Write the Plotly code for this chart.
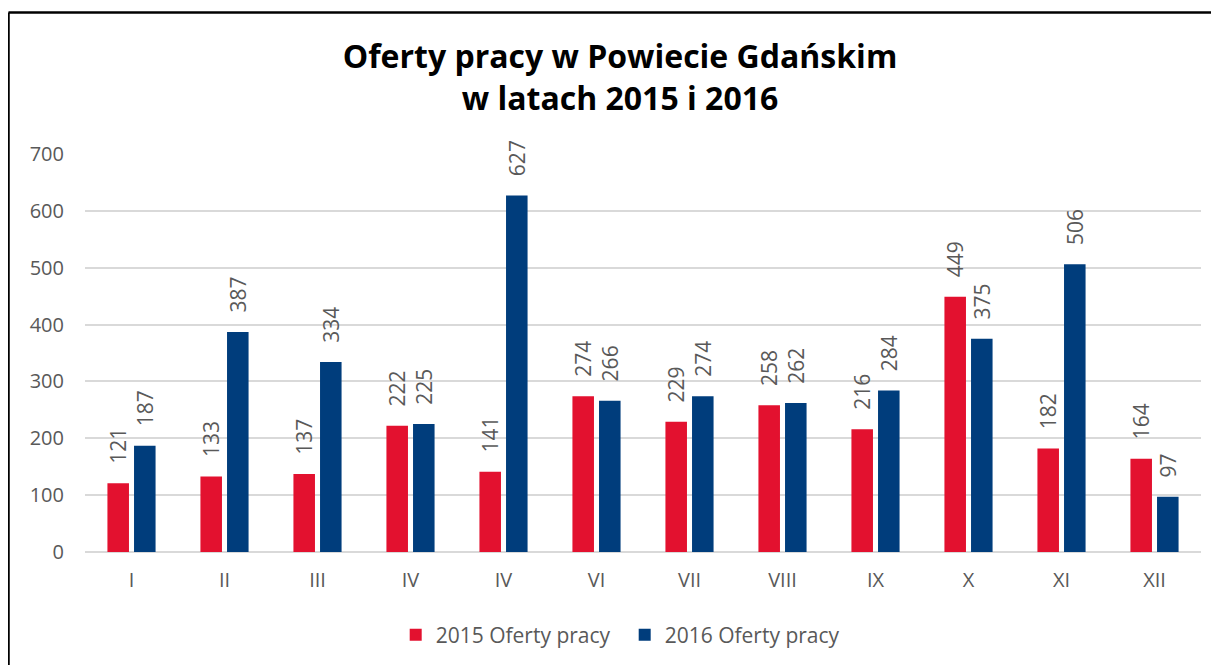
import plotly.graph_objects as go

months = ["I", "II", "III", "IV", "IV", "VI", "VII", "VIII", "IX", "X", "XI", "XII"]
oferty_2015 = [121, 133, 137, 222, 141, 274, 229, 258, 216, 449, 182, 164]
oferty_2016 = [187, 387, 334, 225, 627, 266, 274, 262, 284, 375, 506, 97]
series_names = ["2015 Oferty pracy", "2016 Oferty pracy"]
y_ticks = [0, 100, 200, 300, 400, 500, 600, 700]

positions = list(range(len(months)))
FONT = "Open Sans"
GRAY = "#595959"
RED = "#E3112F"
BLUE = "#003D7C"
PAD = "\u00a0\u00a0\u00a0"

fig = go.Figure()
for name, vals, col in [(series_names[0], oferty_2015, RED), (series_names[1], oferty_2016, BLUE)]:
    fig.add_trace(go.Bar(
        x=positions, y=vals, name=name,
        marker=dict(color=col, line=dict(width=0)),
        text=[PAD + str(v) for v in vals],
        textposition="outside", textangle=-90, constraintext="none",
        cliponaxis=False,
        textfont=dict(family=FONT, size=21, color=GRAY),
    ))

# page body has an 8px offset; plot area placed at screen x 85..1201, y 154..552
fig.update_layout(
    width=1219, height=665,
    margin=dict(l=77, r=26, t=146, b=121),
    paper_bgcolor="white", plot_bgcolor="white",
    barmode="group", bargap=0.428, bargroupgap=0.19,
    title=dict(
        text="<b>Oferty pracy w Powiecie Gdańskim<br>w latach 2015 i 2016</b>",
        font=dict(family=FONT, size=32, color="black"),
        x=612 / 1219, xref="container", xanchor="center",
        y=1 - 60 / 665, yref="container", yanchor="middle",
    ),
    font=dict(family=FONT, color=GRAY),
    showlegend=True,
    legend=dict(
        orientation="h", x=0.4836, xanchor="center", y=-0.2085, yanchor="middle",
        font=dict(family=FONT, size=21, color=GRAY),
        itemwidth=30, tracegroupgap=0,
        entrywidth=184, entrywidthmode="pixels",
    ),
    xaxis=dict(
        tickmode="array", tickvals=positions, ticktext=months,
        range=[-0.5, len(months) - 0.5],
        showgrid=False, zeroline=False, showline=False, ticks="",
        tickfont=dict(family=FONT, size=20, color=GRAY),
        ticklabelstandoff=14,
    ),
    yaxis=dict(
        range=[0, 700], tickvals=y_ticks,
        showgrid=True, gridcolor="#D9D9D9", gridwidth=1.5,
        zeroline=True, zerolinecolor="#D9D9D9", zerolinewidth=1.5,
        showline=False, ticks="",
        tickfont=dict(family=FONT, size=20, color=GRAY),
        ticklabelstandoff=20,
    ),
    shapes=[
        dict(type="line", xref="paper", yref="paper",
             x0=(8.5 - 85) / 1116, x1=(8.5 - 85) / 1116,
             y0=(552 - 12.5) / 398, y1=(552 - 700) / 398,
             line=dict(color="black", width=2.5)),
        dict(type="line", xref="paper", yref="paper",
             x0=(8.5 - 85) / 1116, x1=(1300 - 85) / 1116,
             y0=(552 - 12.5) / 398, y1=(552 - 12.5) / 398,
             line=dict(color="black", width=2.5)),
    ],
)

fig.write_html("out.html")
